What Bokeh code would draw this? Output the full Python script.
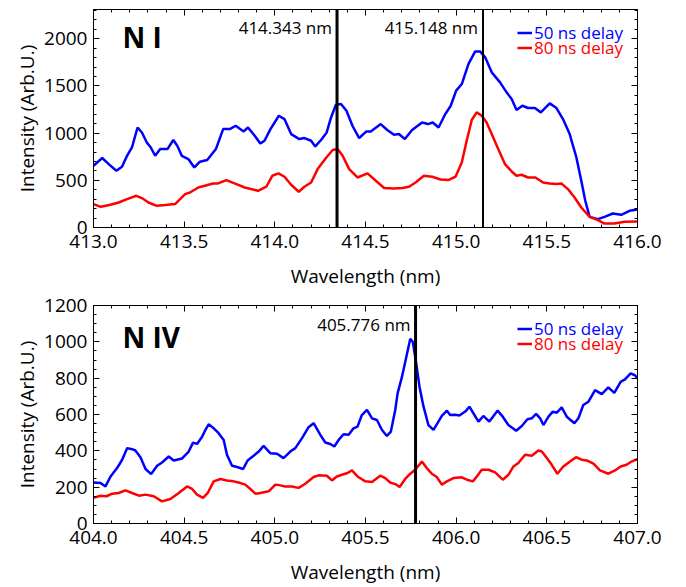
from bokeh.plotting import figure
from bokeh.layouts import column
from bokeh.models import (Range1d, Span, Label, Legend, LegendItem, LinearAxis,
                          SingleIntervalTicker, NumeralTickFormatter)
from bokeh.embed import file_html
from bokeh.resources import INLINE

# ---------------- data: N I panel ----------------
ni_blue_wl = [413.000, 413.048, 413.084, 413.126, 413.157, 413.185, 413.212, 413.243, 413.267, 413.294,
              413.316, 413.340, 413.368, 413.408, 413.440, 413.462, 413.487, 413.523, 413.556, 413.587,
              413.627, 413.675, 413.715, 413.752, 413.784, 413.828, 413.852, 413.889, 413.920, 413.943,
              413.975, 414.022, 414.053, 414.090, 414.135, 414.163, 414.200, 414.223, 414.255, 414.286,
              414.310, 414.337, 414.365, 414.395, 414.428, 414.465, 414.505, 414.529, 414.584, 414.620,
              414.657, 414.684, 414.717, 414.757, 414.812, 414.845, 414.871, 414.903, 414.940, 414.970,
              415.000, 415.031, 415.068, 415.105, 415.132, 415.160, 415.196, 415.242, 415.278, 415.306,
              415.333, 415.365, 415.397, 415.434, 415.467, 415.516, 415.553, 415.589, 415.626, 415.663,
              415.690, 415.712, 415.736, 415.782, 415.818, 415.864, 415.910, 415.956, 416.000]
ni_blue_int = [654, 736, 672, 601, 644, 760, 848, 1060, 1007, 901,
               848, 760, 831, 831, 927, 866, 760, 725, 636, 697,
               715, 831, 1043, 1043, 1078, 1018, 1060, 972, 891, 919,
               1040, 1184, 1149, 990, 937, 948, 919, 859, 927, 1007,
               1166, 1301, 1308, 1237, 1078, 948, 1018, 1018, 1096, 1033,
               983, 990, 937, 1033, 1113, 1096, 1113, 1060, 1202, 1290,
               1450, 1520, 1733, 1866, 1866, 1803, 1644, 1538, 1432, 1362,
               1245, 1290, 1266, 1266, 1220, 1315, 1266, 1149, 990, 742,
               495, 283, 113, 89, 113, 148, 135, 177, 190]

ni_red_wl = [413.000, 413.040, 413.093, 413.139, 413.185, 413.236, 413.267, 413.303, 413.349, 413.395,
             413.450, 413.505, 413.532, 413.578, 413.614, 413.660, 413.687, 413.733, 413.788, 413.834,
             413.907, 413.953, 413.986, 414.020, 414.053, 414.090, 414.132, 414.163, 414.200, 414.236,
             414.282, 414.319, 414.346, 414.374, 414.410, 414.456, 414.511, 414.557, 414.603, 414.657,
             414.703, 414.740, 414.776, 414.822, 414.868, 414.914, 414.960, 414.997, 415.031, 415.058,
             415.086, 415.113, 415.141, 415.168, 415.196, 415.232, 415.269, 415.306, 415.333, 415.360,
             415.397, 415.437, 415.479, 415.516, 415.553, 415.580, 415.616, 415.653, 415.690, 415.736,
             415.782, 415.818, 415.873, 415.928, 416.000]
ni_red_int = [248, 219, 241, 265, 301, 336, 312, 265, 230, 238,
              248, 354, 371, 424, 442, 467, 467, 502, 460, 424,
              389, 432, 548, 573, 538, 453, 379, 432, 477, 619,
              736, 821, 831, 760, 619, 530, 573, 495, 418, 414,
              418, 432, 477, 548, 538, 509, 504, 540, 689, 919,
              1139, 1220, 1184, 1113, 990, 831, 672, 594, 548, 559,
              530, 530, 477, 467, 460, 467, 407, 318, 212, 113,
              78, 42, 42, 60, 64]

ni_lines = [414.343, 415.148]
ni_line_labels = ["414.343 nm", "415.148 nm"]

# ---------------- data: N IV panel ----------------
niv_blue_wl = [404.000, 404.039, 404.066, 404.094, 404.130, 404.158, 404.186, 404.213, 404.231, 404.259,
               404.287, 404.318, 404.351, 404.378, 404.415, 404.442, 404.489, 404.525, 404.549, 404.571,
               404.599, 404.617, 404.635, 404.663, 404.690, 404.718, 404.736, 404.764, 404.792, 404.825,
               404.850, 404.883, 404.911, 404.938, 404.975, 405.012, 405.048, 405.085, 405.113, 405.150,
               405.186, 405.214, 405.251, 405.278, 405.306, 405.328, 405.352, 405.379, 405.407, 405.434,
               405.456, 405.480, 405.508, 405.536, 405.563, 405.591, 405.618, 405.640, 405.664, 405.677,
               405.701, 405.725, 405.747, 405.761, 405.780, 405.798, 405.820, 405.847, 405.875, 405.902,
               405.921, 405.949, 405.967, 405.994, 406.018, 406.050, 406.073, 406.095, 406.123, 406.150,
               406.183, 406.228, 406.257, 406.288, 406.331, 406.362, 406.393, 406.417, 406.441, 406.463,
               406.481, 406.509, 406.533, 406.555, 406.582, 406.610, 406.652, 406.674, 406.701, 406.729,
               406.766, 406.803, 406.839, 406.872, 406.907, 406.931, 406.962, 406.986, 407.000]
niv_blue_int = [226, 223, 204, 259, 305, 351, 415, 409, 402, 365,
                300, 272, 318, 336, 369, 347, 358, 396, 445, 438,
                478, 515, 546, 524, 497, 460, 378, 318, 311, 300,
                347, 373, 396, 427, 387, 384, 360, 396, 415, 470,
                530, 552, 488, 446, 438, 424, 460, 491, 488, 524,
                533, 597, 625, 579, 570, 515, 482, 506, 625, 716,
                807, 917, 1017, 999, 880, 752, 643, 542, 515, 561,
                592, 621, 597, 599, 594, 616, 643, 607, 561, 592,
                561, 621, 588, 542, 511, 537, 574, 579, 603, 579,
                542, 588, 616, 610, 639, 588, 552, 579, 652, 670,
                734, 712, 749, 719, 780, 793, 826, 816, 798]

niv_red_wl = [404.000, 404.039, 404.072, 404.103, 404.139, 404.176, 404.213, 404.250, 404.287, 404.332,
              404.378, 404.424, 404.470, 404.516, 404.544, 404.571, 404.604, 404.630, 404.663, 404.700,
              404.736, 404.773, 404.800, 404.837, 404.865, 404.893, 404.920, 404.966, 405.003, 405.030,
              405.058, 405.095, 405.131, 405.168, 405.214, 405.241, 405.287, 405.315, 405.342, 405.370,
              405.401, 405.425, 405.456, 405.499, 405.536, 405.581, 405.609, 405.636, 405.664, 405.688,
              405.719, 405.747, 405.774, 405.811, 405.838, 405.866, 405.893, 405.921, 405.949, 405.985,
              406.031, 406.059, 406.092, 406.114, 406.141, 406.178, 406.215, 406.257, 406.288, 406.316,
              406.343, 406.380, 406.417, 406.453, 406.472, 406.500, 406.527, 406.558, 406.591, 406.628,
              406.661, 406.692, 406.720, 406.757, 406.793, 406.839, 406.876, 406.907, 406.940, 406.967,
              407.000]
niv_red_int = [141, 153, 150, 164, 168, 182, 168, 153, 159, 150,
               122, 135, 168, 204, 190, 159, 141, 168, 232, 245,
               237, 232, 226, 214, 190, 164, 168, 177, 214, 210,
               204, 204, 196, 219, 256, 265, 263, 237, 259, 268,
               278, 292, 259, 232, 228, 263, 250, 226, 217, 201,
               245, 274, 296, 341, 305, 274, 256, 214, 232, 250,
               254, 241, 232, 259, 296, 296, 281, 241, 268, 314,
               333, 378, 373, 402, 396, 360, 323, 274, 314, 341,
               365, 351, 347, 329, 292, 274, 292, 314, 323, 341,
               354]

niv_lines = [405.776]
niv_line_labels = ["405.776 nm"]

series_labels = ["50 ns delay", "80 ns delay"]
series_colors = ["#0000FF", "#FF0000"]

FONT = "Open Sans"


def make_panel(title, xr, yr, y_interval, y_minor, blue, red, lines, line_labels, line_widths,
               label_y, title_y, legend_vy, height, border_top, border_bottom):
    p = figure(width=680, height=height, output_backend="svg", toolbar_location=None,
               x_range=Range1d(*xr), y_range=Range1d(*yr),
               min_border_left=93, min_border_right=43,
               min_border_top=border_top, min_border_bottom=border_bottom)
    p.grid.visible = False
    p.outline_line_color = "black"
    p.outline_line_width = 1
    p.background_fill_color = "white"
    p.border_fill_color = "white"

    p.xaxis.ticker = SingleIntervalTicker(interval=0.5, num_minor_ticks=5)
    p.xaxis.formatter = NumeralTickFormatter(format="0.0")
    p.yaxis.ticker = SingleIntervalTicker(interval=y_interval, num_minor_ticks=y_minor)
    p.xaxis.axis_label = "Wavelength (nm)"
    p.yaxis.axis_label = "Intensity (Arb.U.)"
    for ax in (p.xaxis, p.yaxis):
        ax.axis_line_color = "black"
        ax.major_tick_line_color = "black"
        ax.minor_tick_line_color = "black"
        ax.major_tick_in = 6
        ax.major_tick_out = 0
        ax.minor_tick_in = 3
        ax.minor_tick_out = 0
        ax.major_label_text_font = FONT
        ax.major_label_text_font_size = "19px"
        ax.major_label_text_color = "black"
        ax.axis_label_text_font = FONT
        ax.axis_label_text_font_size = "19px"
        ax.axis_label_text_font_style = "normal"
        ax.axis_label_text_color = "black"
    p.xaxis.major_label_standoff = 7
    p.xaxis.axis_label_standoff = 12
    p.yaxis.major_label_standoff = 6
    p.yaxis.axis_label_standoff = 1

    # mirrored tick marks on top and right
    for side, ticker in (("right", SingleIntervalTicker(interval=y_interval, num_minor_ticks=y_minor)),
                         ("above", SingleIntervalTicker(interval=0.5, num_minor_ticks=5))):
        ax = LinearAxis(ticker=ticker, major_tick_in=6, major_tick_out=0, minor_tick_in=3,
                        minor_tick_out=0, major_label_standoff=0,
                        major_label_text_font_size="0px", major_label_text_color=None,
                        axis_line_color="black", major_tick_line_color="black",
                        minor_tick_line_color="black")
        p.add_layout(ax, side)

    rb = p.line(blue[0], blue[1], line_color=series_colors[0], line_width=2.5)
    rr = p.line(red[0], red[1], line_color=series_colors[1], line_width=2.5)

    for loc, txt, w in zip(lines, line_labels, line_widths):
        p.add_layout(Span(location=loc, dimension="height", line_color="black", line_width=w))
        p.add_layout(Label(x=loc, y=label_y, x_offset=-5, text=txt, text_align="right",
                           text_baseline="middle", text_font=FONT, text_font_size="17px",
                           text_color="black"))

    p.add_layout(Label(x=xr[0] + 0.16, y=title_y, text=title, text_baseline="middle",
                       text_font=FONT, text_font_size="28px", text_font_style="bold",
                       text_color="black"))

    for r, lab, col, vy in zip((rb, rr), series_labels, series_colors, legend_vy):
        lg = Legend(items=[LegendItem(label=lab, renderers=[r])],
                    location=(424, vy),
                    label_text_color=col, label_text_font=FONT, label_text_font_size="17px",
                    glyph_width=15, glyph_height=17, label_height=17, label_standoff=2,
                    padding=0, margin=0, spacing=0,
                    border_line_alpha=0, background_fill_alpha=0)
        p.add_layout(lg)
    return p


p1 = make_panel("N I", (413.0, 416.0), (0, 2310), 500, 5,
                (ni_blue_wl, ni_blue_int), (ni_red_wl, ni_red_int),
                ni_lines, ni_line_labels, [3, 2], 2116, 2016, (183, 168),
                height=291, border_top=9, border_bottom=64)
p2 = make_panel("N IV", (404.0, 407.0), (0, 1200), 200, 4,
                (niv_blue_wl, niv_blue_int), (niv_red_wl, niv_red_int),
                niv_lines, niv_line_labels, [3], 1095, 1024, (183, 168),
                height=296, border_top=14, border_bottom=64)

layout = column(p1, p2, spacing=0)
open("out.html", "w").write(file_html(layout, INLINE))
